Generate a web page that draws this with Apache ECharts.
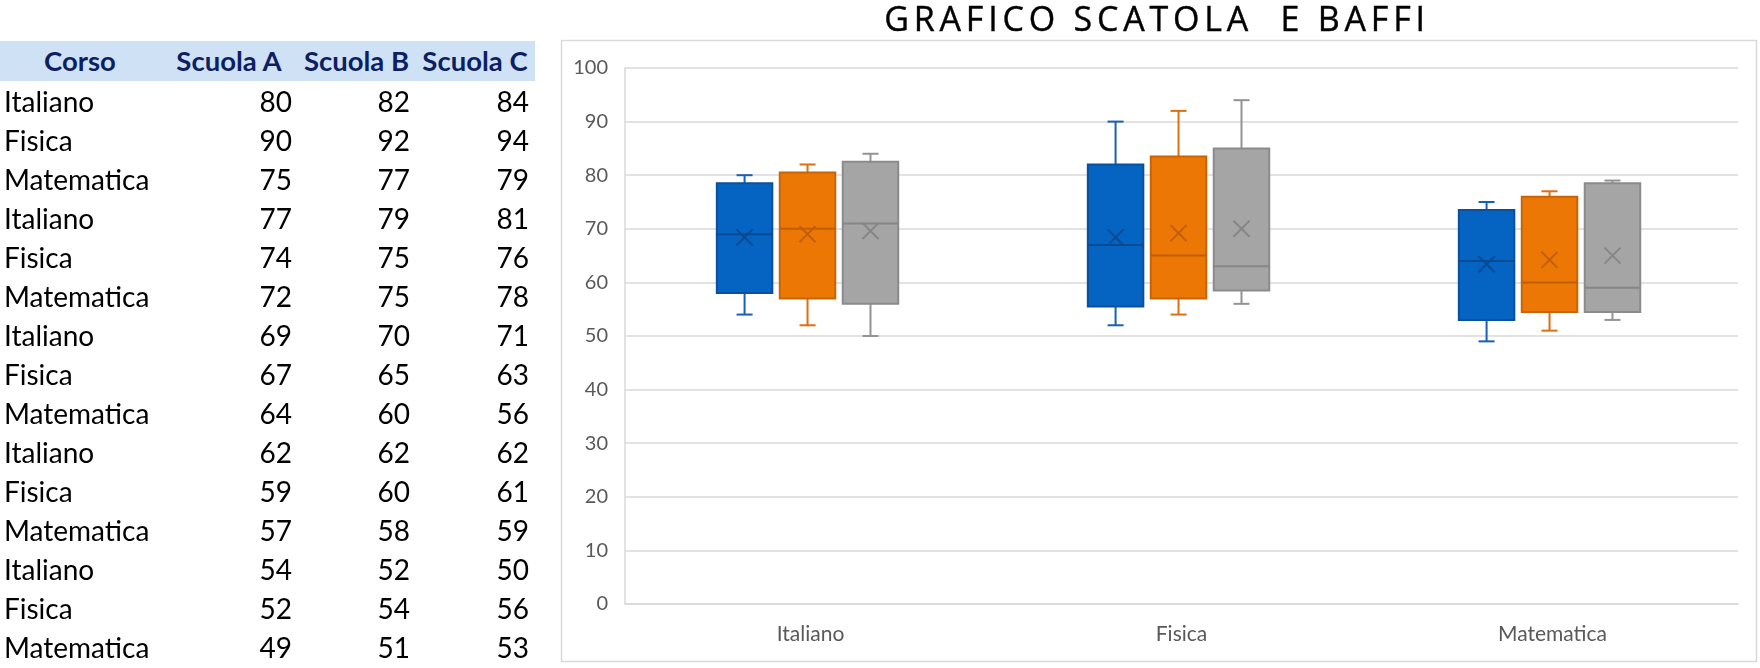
<!DOCTYPE html>
<html>
<head>
<meta charset="utf-8">
<script src="https://cdn.jsdelivr.net/npm/echarts@6/dist/echarts.min.js"></script>
<style>
  html, body { margin: 0; padding: 0; background: #ffffff; }
  #wrap { position: relative; width: 1760px; height: 668px; overflow: hidden; }
  #chart { position: absolute; left: 0; top: 0; width: 1760px; height: 668px; }
  #table { position: absolute; left: 0; top: 0; width: 540px; height: 668px; font-family: Lato, "Noto Sans", sans-serif; }
  .hdr { position: absolute; left: 0; top: 41px; width: 535px; height: 40px; background: #CFE2F5; }
  .cell { position: absolute; height: 39px; line-height: 39px; font-size: 28px; color: #000; white-space: nowrap; }
  .hcell { position: absolute; height: 40px; line-height: 40px; top: 41px; font-size: 27.5px; font-weight: bold; color: #0D1F62; text-align: center; white-space: nowrap; }
  #title { position: absolute; left: 860px; width: 594px; top: -2px; height: 40px; line-height: 40px; text-align: center; font-family: "Open Sans", sans-serif; font-size: 34px; font-weight: 400; letter-spacing: 4.8px; color: #000; white-space: pre; -webkit-text-stroke: 0.4px #000; }
</style>
</head>
<body>
<div id="wrap">
  <div id="chart"></div>
  <div id="table"></div>
  <div id="title"></div>
</div>
<script>
// ---------------- data ----------------
const titleText = 'GRAFICO SCATOLA  E BAFFI';
const headers = ['Corso', 'Scuola A', 'Scuola B', 'Scuola C'];
const corso = ['Italiano', 'Fisica', 'Matematica', 'Italiano', 'Fisica', 'Matematica',
  'Italiano', 'Fisica', 'Matematica', 'Italiano', 'Fisica', 'Matematica',
  'Italiano', 'Fisica', 'Matematica'];
const scuolaA = [80, 90, 75, 77, 74, 72, 69, 67, 64, 62, 59, 57, 54, 52, 49];
const scuolaB = [82, 92, 77, 79, 75, 75, 70, 65, 60, 62, 60, 58, 52, 54, 51];
const scuolaC = [84, 94, 79, 81, 76, 78, 71, 63, 56, 62, 61, 59, 50, 56, 53];
const categories = ['Italiano', 'Fisica', 'Matematica'];
const seriesNames = ['Scuola A', 'Scuola B', 'Scuola C'];
const yTicks = [0, 10, 20, 30, 40, 50, 60, 70, 80, 90, 100];

// ---------------- table (HTML text) ----------------
(function buildTable() {
  const t = document.getElementById('table');
  const cols = [
    { x: 0, w: 160, align: 'left', pad: 4 },
    { x: 160, w: 138, align: 'right', pad: 6 },
    { x: 298, w: 117, align: 'right', pad: 5 },
    { x: 415, w: 120, align: 'right', pad: 6 }
  ];
  let html = '<div class="hdr"></div>';
  headers.forEach((h, i) => {
    html += `<div class="hcell" style="left:${cols[i].x}px;width:${cols[i].w}px">${h}</div>`;
  });
  const colsData = [corso, scuolaA, scuolaB, scuolaC];
  for (let r = 0; r < corso.length; r++) {
    const top = 101 + r * 39.03 - 19.5;
    colsData.forEach((arr, i) => {
      const c = cols[i];
      const padStyle = c.align === 'left' ? `padding-left:${c.pad}px;` : `padding-right:${c.pad}px;`;
      html += `<div class="cell" style="left:${c.x}px;width:${c.w - c.pad}px;top:${top}px;text-align:${c.align};${padStyle}">${arr[r]}</div>`;
    });
  }
  t.innerHTML = html;
  document.getElementById('title').textContent = titleText;
})();

// ---------------- box statistics (Excel exclusive quartiles) ----------------
function quartileExc(sorted, p) {
  const n = sorted.length;
  let pos = p * (n + 1);
  if (pos < 1) pos = 1;
  if (pos > n) pos = n;
  const lo = Math.floor(pos);
  const frac = pos - lo;
  const a = sorted[lo - 1];
  const b = lo < n ? sorted[lo] : a;
  return a + frac * (b - a);
}
function boxStats(values) {
  const s = values.slice().sort((a, b) => a - b);
  const q1 = quartileExc(s, 0.25), med = quartileExc(s, 0.5), q3 = quartileExc(s, 0.75);
  const iqr = q3 - q1;
  const inside = s.filter(v => v >= q1 - 1.5 * iqr && v <= q3 + 1.5 * iqr);
  const mean = s.reduce((a, b) => a + b, 0) / s.length;
  return [inside[0], q1, med, q3, inside[inside.length - 1], mean];
}
function seriesData(values) {
  return categories.map((cat, ci) => {
    const vals = values.filter((v, k) => corso[k] === cat);
    return [ci].concat(boxStats(vals));
  });
}
const schoolValues = [scuolaA, scuolaB, scuolaC];

const palette = [
  { fill: '#0563C1', stroke: '#0A509E', whisker: '#1760B5', median: '#0B4A90' },
  { fill: '#EC7704', stroke: '#C86406', whisker: '#DD6F0E', median: '#BF5E06' },
  { fill: '#A5A5A5', stroke: '#8B8B8B', whisker: '#939393', median: '#868686' }
];

function makeRender(j) {
  const col = palette[j];
  return function (params, api) {
    const ci = api.value(0);
    const band = api.size([1, 0])[0];
    const cx = api.coord([ci, 0])[0] + (j - 1) * band * 0.1697 - band * 0.008;
    const w = band * 0.155 - 2;
    const y = k => api.coord([ci, api.value(k)])[1];
    const yMin = y(1), yQ1 = y(2), yMed = y(3), yQ3 = y(4), yMax = y(5), yMean = y(6);
    const cap = 8, xs = 8;
    return {
      type: 'group',
      children: [
        { type: 'line', shape: { x1: cx, y1: yQ3, x2: cx, y2: yMax }, style: { stroke: col.whisker, lineWidth: 2 } },
        { type: 'line', shape: { x1: cx - cap, y1: yMax, x2: cx + cap, y2: yMax }, style: { stroke: col.whisker, lineWidth: 2 } },
        { type: 'line', shape: { x1: cx, y1: yQ1, x2: cx, y2: yMin }, style: { stroke: col.whisker, lineWidth: 2 } },
        { type: 'line', shape: { x1: cx - cap, y1: yMin, x2: cx + cap, y2: yMin }, style: { stroke: col.whisker, lineWidth: 2 } },
        { type: 'rect', shape: { x: cx - w / 2, y: yQ3, width: w, height: yQ1 - yQ3 }, style: { fill: col.fill, stroke: col.stroke, lineWidth: 2 } },
        { type: 'line', shape: { x1: cx - w / 2, y1: yMed, x2: cx + w / 2, y2: yMed }, style: { stroke: col.median, lineWidth: 2 } },
        { type: 'line', shape: { x1: cx - xs, y1: yMean - xs, x2: cx + xs, y2: yMean + xs }, style: { stroke: col.median, lineWidth: 2 } },
        { type: 'line', shape: { x1: cx - xs, y1: yMean + xs, x2: cx + xs, y2: yMean - xs }, style: { stroke: col.median, lineWidth: 2 } }
      ]
    };
  };
}

const chart = echarts.init(document.getElementById('chart'), null, { renderer: 'canvas' });
const option = {
  animation: false,
  backgroundColor: '#ffffff',
  textStyle: { fontFamily: 'Lato, "Noto Sans", sans-serif' },
  graphic: [
    { type: 'rect', z: -10, silent: true, shape: { x: 561.5, y: 40.5, width: 1195, height: 621 }, style: { fill: '#ffffff', stroke: '#D9D9D9', lineWidth: 1.5 } }
  ],
  grid: { left: 625, right: 22, top: 68, bottom: 64, containLabel: false },
  xAxis: {
    type: 'category',
    data: categories,
    axisLine: { show: true, lineStyle: { color: '#D9D9D9', width: 1.5 } },
    axisTick: { show: false },
    axisLabel: { color: '#595959', fontSize: 21, margin: 20 },
    splitLine: { show: false }
  },
  yAxis: {
    type: 'value',
    min: yTicks[0],
    max: yTicks[yTicks.length - 1],
    interval: yTicks[1] - yTicks[0],
    axisLine: { show: true, lineStyle: { color: '#D9D9D9', width: 1.5 } },
    axisTick: { show: false },
    axisLabel: { color: '#595959', fontSize: 20, margin: 17 },
    splitLine: { show: true, lineStyle: { color: '#D9D9D9', width: 1.5 } }
  },
  series: schoolValues.map((vals, j) => ({
    name: seriesNames[j],
    type: 'custom',
    renderItem: makeRender(j),
    encode: { x: 0, y: [1, 2, 3, 4, 5, 6] },
    data: seriesData(vals),
    z: 3
  }))
};
chart.setOption(option);
</script>
</body>
</html>
